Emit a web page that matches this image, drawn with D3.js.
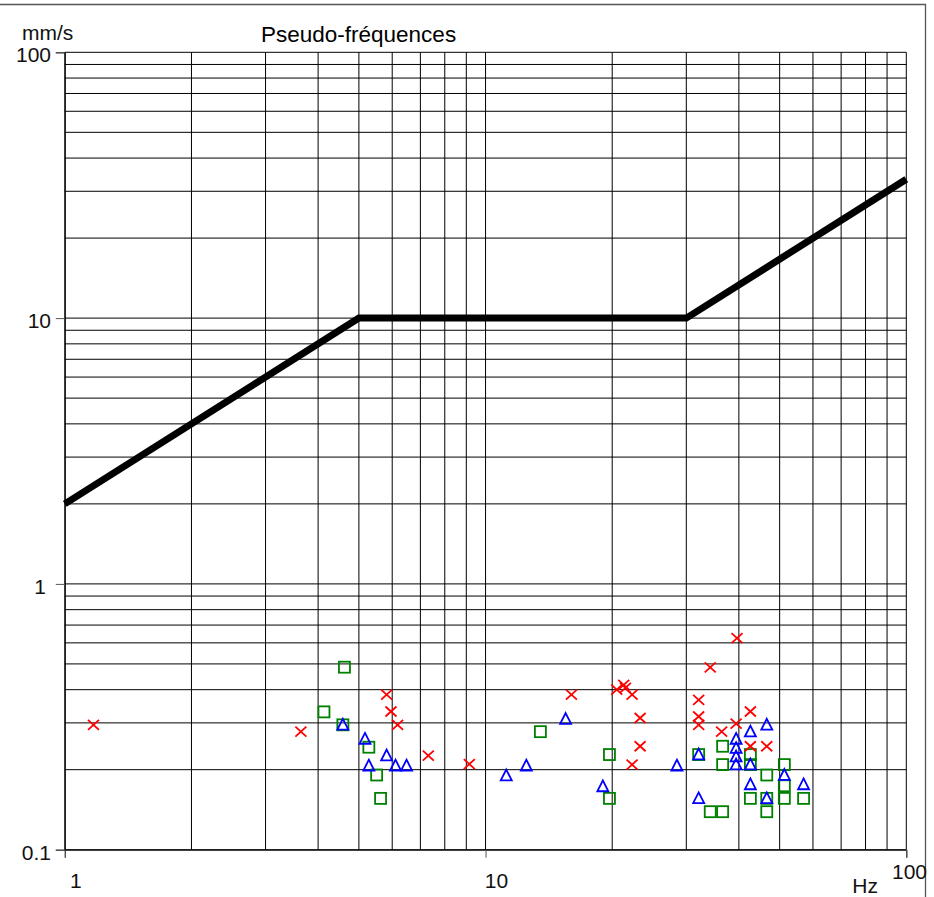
<!DOCTYPE html>
<html>
<head>
<meta charset="utf-8">
<script src="https://cdn.jsdelivr.net/npm/d3@7"></script>
<style>
  html, body { margin: 0; padding: 0; background: #fff; }
  svg { display: block; font-family: "Liberation Sans", Arial, sans-serif; }
</style>
</head>
<body>
<svg id="chart" width="934" height="897"></svg>
<script>
// ---- data ----
const title = "Pseudo-fréquences";
const yUnit = "mm/s";
const xUnit = "Hz";
const xTickValues = [1, 10, 100];
const xTickLabels = ["1", "10", "100"];
const yTickValues = [100, 10, 1, 0.1];
const yTickLabels = ["100", "10", "1", "0.1"];

// limit curve
const limitF = [1, 5, 30, 100];
const limitV = [2, 10, 10, 33.3];

// red crosses
const crossF = [1.17, 3.64, 5.82, 5.96, 6.18, 7.31, 9.15, 16.0, 20.5, 21.3, 21.5, 22.3, 23.3, 23.3, 22.3,
                39.6, 34.2, 32.1, 32.1, 32.1, 36.4, 39.4, 42.6, 42.6, 46.6];
const crossV = [0.295, 0.278, 0.383, 0.331, 0.295, 0.226, 0.210, 0.383, 0.400, 0.417, 0.406, 0.383, 0.313, 0.245, 0.209,
                0.625, 0.485, 0.366, 0.317, 0.295, 0.278, 0.298, 0.331, 0.245, 0.245];

// blue triangles
const triF = [4.58, 5.17, 5.82, 5.28, 6.11, 6.49, 15.5, 11.2, 12.5, 19.0, 28.5,
              32.1, 32.1, 39.4, 39.4, 39.4, 39.4, 42.6, 42.6, 46.6, 42.6, 46.6, 51.3, 57.0];
const triV = [0.295, 0.261, 0.226, 0.207, 0.207, 0.207, 0.310, 0.190, 0.207, 0.173, 0.207,
              0.228, 0.156, 0.261, 0.241, 0.224, 0.209, 0.278, 0.209, 0.295, 0.176, 0.156, 0.191, 0.176];

// green squares
const sqF = [4.62, 4.13, 4.58, 5.28, 5.51, 5.63, 13.5, 19.7, 19.7,
             32.1, 36.6, 36.6, 34.2, 36.6, 42.6, 42.6, 42.6, 46.6, 46.6, 46.6, 51.3, 51.3, 51.3, 57.0];
const sqV = [0.486, 0.330, 0.295, 0.243, 0.191, 0.156, 0.278, 0.228, 0.156,
             0.228, 0.245, 0.209, 0.139, 0.139, 0.228, 0.209, 0.156, 0.191, 0.156, 0.139, 0.209, 0.174, 0.156, 0.156];

// ---- drawing ----
const svg = d3.select("#chart");
const x = d3.scaleLog().domain([1, 100]).range([64.8, 906.3]);
const y = d3.scaleLog().domain([0.1, 100]).range([849.7, 52.3]);

// outer frame
svg.append("path")
  .attr("d", "M0,4.5 H925.5 V897")
  .attr("fill", "none").attr("stroke", "#555").attr("stroke-width", 1.3);

// grid values (1..9 per decade)
const xGrid = [], yGrid = [];
for (let d = 0; d < 2; d++) for (let k = 1; k <= 9; k++) xGrid.push(k * Math.pow(10, d));
xGrid.push(100);
for (let d = -1; d < 2; d++) for (let k = 1; k <= 9; k++) yGrid.push(k * Math.pow(10, d));
yGrid.push(100);

const grid = svg.append("g").attr("stroke", "#000").attr("stroke-width", 1);
grid.selectAll("line.v").data(xGrid).join("line").attr("class", "v")
  .attr("x1", d => x(d)).attr("x2", d => x(d))
  .attr("y1", y(100)).attr("y2", y(0.1));
grid.selectAll("line.h").data(yGrid).join("line").attr("class", "h")
  .attr("y1", d => y(d)).attr("y2", d => y(d))
  .attr("x1", x(1)).attr("x2", x(100));

// axes ticks via d3 axis
const xAxis = d3.axisBottom(x).tickValues(xTickValues).tickSize(8).tickFormat("");
const yAxis = d3.axisLeft(y).tickValues(yTickValues).tickSize(9).tickFormat("");
svg.append("g").attr("transform", `translate(0,${y(0.1)})`).call(xAxis)
  .call(g => g.select(".domain").attr("stroke", "#000"))
  .call(g => g.selectAll(".tick line").attr("stroke", "#555"));
svg.append("g").attr("transform", `translate(${x(1)},0)`).call(yAxis)
  .call(g => g.select(".domain").attr("stroke", "#000"))
  .call(g => g.selectAll(".tick line").attr("stroke", "#555"));

// tick labels
const fs = 21;
svg.append("g").selectAll("text").data(yTickValues).join("text")
  .attr("x", (d, i) => yTickLabels[i] === "1" ? 46 : 51)
  .attr("y", d => y(d) + 10)
  .attr("text-anchor", "end").attr("font-size", fs).attr("fill", "#111")
  .text((d, i) => yTickLabels[i]);

svg.append("g").selectAll("text").data(xTickValues).join("text")
  .attr("x", d => d === 100 ? 927 : x(d) + 11)
  .attr("y", d => d === 100 ? 879 : 888)
  .attr("text-anchor", d => d === 100 ? "end" : "middle")
  .attr("font-size", fs).attr("fill", "#111")
  .text((d, i) => xTickLabels[i]);

svg.append("text").attr("x", 22).attr("y", 40).attr("font-size", fs).attr("fill", "#111").text(yUnit);
svg.append("text").attr("x", 878).attr("y", 893).attr("text-anchor", "end").attr("font-size", fs).attr("fill", "#111").text(xUnit);
svg.append("text").attr("x", 261).attr("y", 42).attr("font-size", 22.5).attr("fill", "#000").text(title);

// limit line
const limit = limitF.map((f, i) => [f, limitV[i]]);
svg.append("path").datum(limit)
  .attr("d", d3.line().x(d => x(d[0])).y(d => y(d[1])))
  .attr("fill", "none").attr("stroke", "#000").attr("stroke-width", 7)
  .attr("stroke-linejoin", "miter");

// markers
const sq = sqF.map((f, i) => [f, sqV[i]]);
const tri = triF.map((f, i) => [f, triV[i]]);
const cr = crossF.map((f, i) => [f, crossV[i]]);

svg.append("g").selectAll("rect").data(sq).join("rect")
  .attr("x", d => x(d[0]) - 5.5).attr("y", d => y(d[1]) - 5.5)
  .attr("width", 11).attr("height", 11)
  .attr("fill", "none").attr("stroke", "#008000").attr("stroke-width", 1.8);

svg.append("g").selectAll("path").data(tri).join("path")
  .attr("transform", d => `translate(${x(d[0])},${y(d[1])})`)
  .attr("d", "M0,-6 L5.5,4.8 L-5.5,4.8 Z")
  .attr("fill", "none").attr("stroke", "#0000ff").attr("stroke-width", 1.8);

svg.append("g").selectAll("path").data(cr).join("path")
  .attr("transform", d => `translate(${x(d[0])},${y(d[1])})`)
  .attr("d", "M-5.5,-5 L5.5,5 M-5.5,5 L5.5,-5")
  .attr("fill", "none").attr("stroke", "#ff0000").attr("stroke-width", 1.8);
</script>
</body>
</html>
